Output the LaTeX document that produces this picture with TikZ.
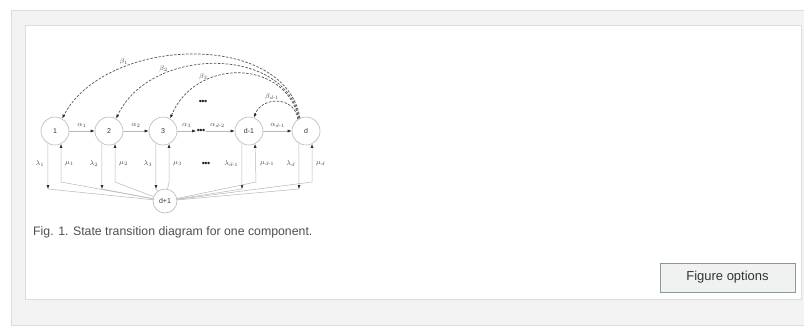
\documentclass[tikz,border=0pt]{standalone}
\usepackage{amsmath}
\usepackage{fontspec}
\setmainfont{Liberation Sans}
\usetikzlibrary{arrows.meta}
\definecolor{panel}{HTML}{F3F3F3}
\definecolor{panelline}{HTML}{DDDDDD}
\definecolor{btnfill}{HTML}{F0F2F2}
\definecolor{btnline}{HTML}{8E979C}
\definecolor{captext}{HTML}{505050}
\definecolor{wire}{HTML}{B8B8B8}
\definecolor{darkdash}{HTML}{555555}
\tikzset{
  x=1pt, y=-1pt,
  state/.style={circle, draw=wire, line width=0.6pt, fill=white, minimum size=28pt, inner sep=0pt, font=\fontsize{7}{8}\selectfont\color{black!80}},
  tip/.style={-{Latex[length=4pt,width=3pt,color=black!85]}},
  flow/.style={draw=wire, line width=0.5pt},
  back/.style={draw=darkdash, dashed, dash pattern=on 2.5pt off 1.5pt, line width=0.7pt, -{Latex[length=4pt,width=3pt,color=black!85]}},
  lab/.style={font=\fontsize{7}{8}\selectfont, text=black!70, inner sep=0pt},
  dots/.style={font=\fontsize{9}{10}\selectfont, text=black!85, inner sep=0.5pt},
}
\begin{document}
\begin{tikzpicture}
\useasboundingbox (0,0) rectangle (804,325);
\fill[white] (0,0) rectangle (804,325);
% outer panel
\filldraw[fill=panel, draw=panelline, line width=1pt] (11,10) -- (804.6,10) -- (804.6,325.6) -- (11,325.6) -- cycle;
% inner white box
\filldraw[fill=white, draw=panelline, line width=1pt] (25,25) rectangle (801,299);

% states
\node[state] (n1) at (55,131) {1};
\node[state] (n2) at (109,131) {2};
\node[state] (n3) at (163,131) {3};
\node[state] (ndm) at (249,131) {d-1};
\node[state] (nd) at (306,131) {d};
\node[state, minimum size=24pt] (np) at (165,201) {d+1};
\node[dots] (hdots) at (201,131) {\textbullet\kern-0.5pt\textbullet\kern-0.5pt\textbullet};
\node[dots] (vdots) at (206,164) {\textbullet\kern-0.5pt\textbullet\kern-0.5pt\textbullet};
\node[dots] (tdots) at (203,102) {\textbullet\kern-0.5pt\textbullet\kern-0.5pt\textbullet};

% forward alpha arrows
\draw[flow, tip] (n1) -- (n2) node[lab, midway, above=3pt] {$\alpha_1$};
\draw[flow, tip] (n2) -- (n3) node[lab, midway, above=3pt] {$\alpha_2$};
\draw[flow, tip] (n3) -- (hdots) node[lab, midway, above=3pt] {$\alpha_3$};
\draw[flow, tip] (hdots) -- (ndm) node[lab, pos=0.4, above=3pt] {$\alpha_{d\text{-}2}$};
\draw[flow, tip] (ndm) -- (nd) node[lab, midway, above=3pt] {$\alpha_{d\text{-}1}$};

% lambda / mu connectors
\foreach \n/\lx/\mx/\i [count=\k] in {n1/48/61/1, n2/102/115/2, n3/156/169/3, ndm/242/256/{d\text{-}1}, nd/299/312/d}{
  \coordinate (L\k) at (\lx,189);
  \coordinate (M\k) at (\mx,182);
  \draw[flow, tip] (\n.-120) -- (L\k);
  \draw[flow] (L\k) -- (np);
  \draw[flow, tip] (np) -- (M\k) -- (\n.-65);
  \node[lab, left=3.5pt] at (\lx,164) {$\lambda_{\i}$};
  \node[lab, right=4pt] at (\mx,164) {$\mu_{\i}$};
}

% beta back arrows
\draw[back] (nd.115) .. controls (285,30) and (105,36) .. (n1.60) node[lab, pos=0.72, above=2pt] {$\beta_1$};
\draw[back] (nd.118) .. controls (285,45) and (150,46) .. (n2.60) node[lab, pos=0.72, above=2pt] {$\beta_2$};
\draw[back] (nd.120) .. controls (285,58) and (195,58) .. (n3.60) node[lab, pos=0.72, above=2pt] {$\beta_3$};
\draw[back] (nd.125) .. controls (295,96) and (262,96) .. (ndm.70) node[lab, pos=0.6, above=2pt] {$\beta_{d\text{-}1}$};

% caption
\node[anchor=base west, inner sep=0pt, text=captext, font=\fontsize{12.3}{14}\selectfont] (cap) at (33,235) {Fig. 1. State transition diagram for one component.};

% button
\node[draw=btnline, fill=btnfill, line width=0.7pt, minimum width=135pt, minimum height=29pt, inner sep=0pt, font=\fontsize{13}{15}\selectfont, text=black!80] (btn) at (727.5,277.5) {Figure options};
\end{tikzpicture}
\end{document}
